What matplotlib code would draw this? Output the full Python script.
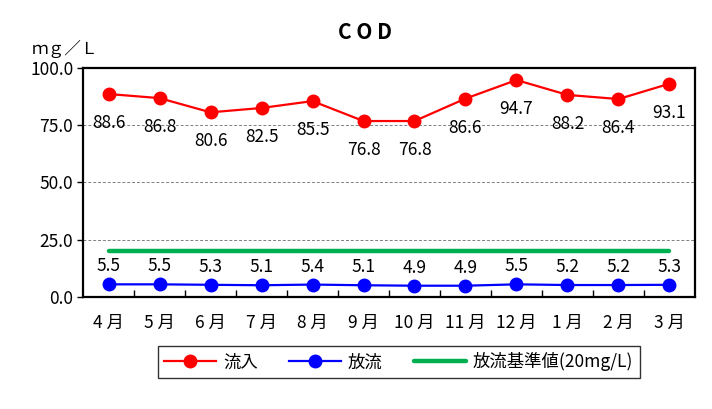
import numpy as np
import matplotlib.pyplot as plt
from matplotlib.ticker import FixedLocator

plt.rcParams['font.family'] = ['Noto Sans CJK JP', 'DejaVu Sans']

months = ['4月', '5月', '6月', '7月', '8月', '9月', '10月', '11月', '12月', '1月', '2月', '3月']
inflow = [88.6, 86.8, 80.6, 82.5, 85.5, 76.8, 76.8, 86.6, 94.7, 88.2, 86.4, 93.1]
outflow = [5.5, 5.5, 5.3, 5.1, 5.4, 5.1, 4.9, 4.9, 5.5, 5.2, 5.2, 5.3]
standard = [20] * 12
yticks = [0, 25, 50, 75, 100]

fig = plt.figure(figsize=(7.12, 4.09), dpi=100)
ax = fig.add_axes([0.1166, 0.274, 0.8595, 0.560])

x = np.arange(len(months))
l1, = ax.plot(x, inflow, color='#ff0000', lw=1.6, marker='o', ms=9, zorder=3)
l2, = ax.plot(x, outflow, color='#0000ff', lw=1.6, marker='o', ms=9, zorder=3)
l3, = ax.plot(x, standard, color='#00b050', lw=3.2, solid_capstyle='round', zorder=2)

for xi, v in zip(x, inflow):
    ax.annotate(f'{v:.1f}', (xi, v), xytext=(0, -21), textcoords='offset points',
                ha='center', va='center', fontsize=12.5)
for xi, v in zip(x, outflow):
    ax.annotate(f'{v:.1f}', (xi, v), xytext=(0, 13), textcoords='offset points',
                ha='center', va='center', fontsize=12.5)

ax.set_xlim(-0.5, 11.5)
ax.set_ylim(0, 100)
ax.set_yticks(yticks)
ax.set_yticklabels([f'{t:.1f}' for t in yticks], fontsize=12.5)
ax.set_xticks(x)
ax.set_xticklabels([m.replace('月', ' 月') for m in months], fontsize=12.5)
ax.tick_params(axis='x', length=0, pad=12)
ax.tick_params(axis='y', length=4, width=1, direction='out', pad=3)
ax.xaxis.set_minor_locator(FixedLocator(np.arange(0.5, 11, 1)))
ax.tick_params(axis='x', which='minor', direction='in', length=5, width=1)

for t in [25, 50, 75]:
    ax.axhline(t, color='#808080', lw=0.7, ls=(0, (3, 2)), zorder=1)

for s in ax.spines.values():
    s.set_linewidth(1.6)
    s.set_color('black')

fig.text(0.513, 0.92, 'C O D', ha='center', va='center', fontsize=15, fontweight='bold')
fig.text(0.045, 0.88, 'ｍｇ／Ｌ', ha='left', va='center', fontsize=12)

leg = fig.legend([l1, l2, l3], ['流入', '放流', '放流基準値(20mg/L)'],
                 loc='center', bbox_to_anchor=(0.56, 0.115),
                 ncol=3, fontsize=12.5, frameon=True, fancybox=False, edgecolor='black',
                 handlelength=3.0, columnspacing=1.8, borderpad=0.35, handletextpad=0.4,
                 borderaxespad=0)
leg.get_frame().set_linewidth(1.0)

fig.savefig('out.png', dpi=100)
